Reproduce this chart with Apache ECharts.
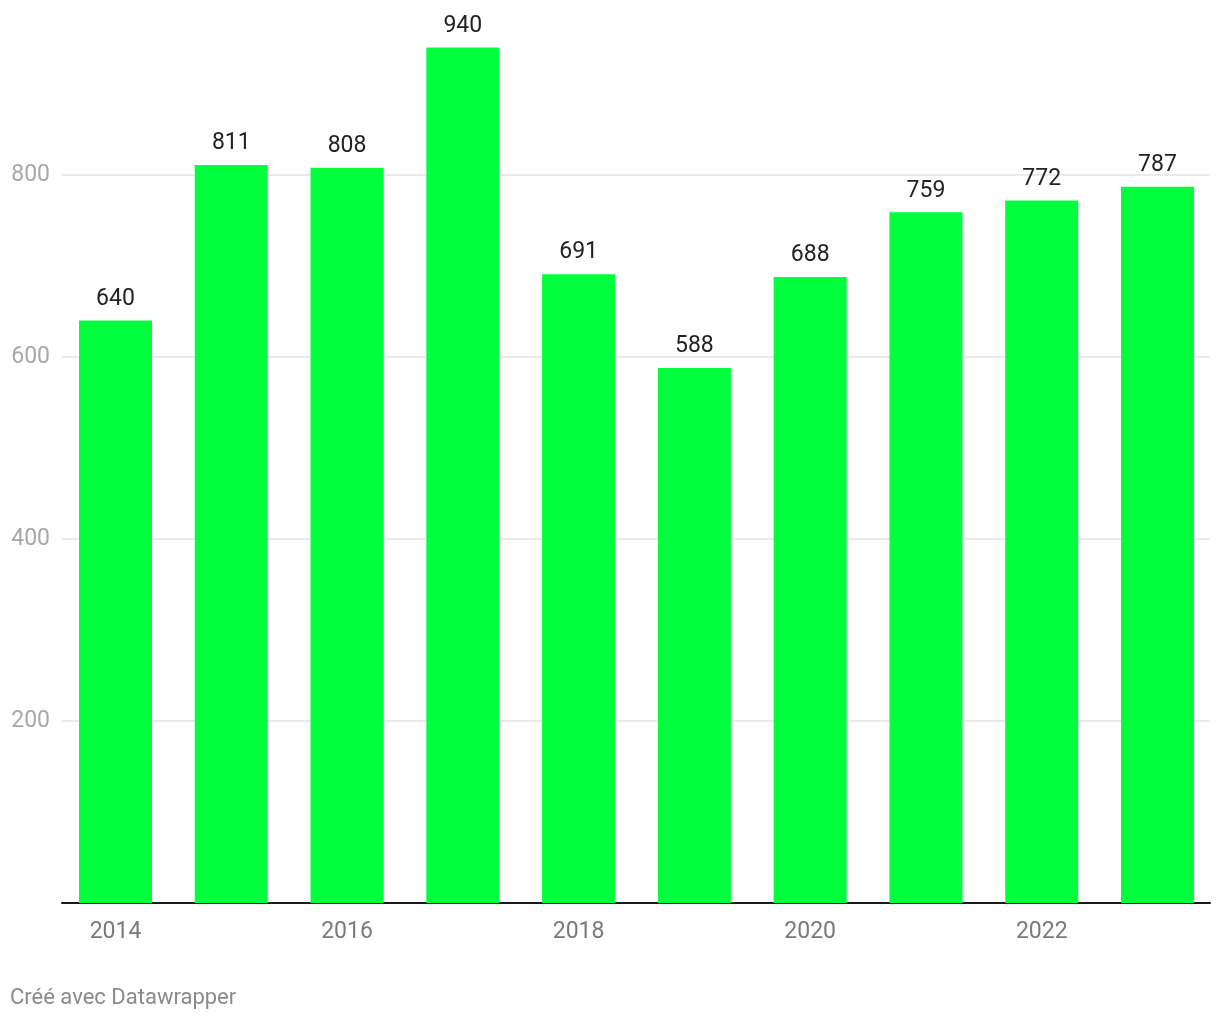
<!DOCTYPE html>
<html>
<head>
<meta charset="utf-8">
<script src="https://cdn.jsdelivr.net/npm/echarts@6/dist/echarts.min.js"></script>
<style>
  html, body { margin: 0; padding: 0; background: #fff; }
  #main { width: 1220px; height: 1020px; }
</style>
</head>
<body>
<div id="main"></div>
<script>
// données du graphique
const years = ['2014', '2015', '2016', '2017', '2018', '2019', '2020', '2021', '2022', '2023'];
const values = [640, 811, 808, 940, 691, 588, 688, 759, 772, 787];
const yTicks = [200, 400, 600, 800];

const FONT = 'Roboto, "Noto Sans", sans-serif';
const Y_MAX = 992.3; // haut de la zone de tracé

let myChart = echarts.init(document.getElementById('main'));

let option = {
  backgroundColor: '#ffffff',
  animation: false,
  textStyle: { fontFamily: FONT },
  graphic: [{
    type: 'text',
    left: 10,
    top: 987,
    style: { text: 'Créé avec Datawrapper', fill: '#8a8a8a', font: '22px ' + FONT }
  }],
  grid: [
    // barres
    { left: 57.6, right: 4.6, top: 0, bottom: 117 },
    // axes et grille
    { left: 62, right: 10, top: 0, bottom: 117 }
  ],
  xAxis: [
    {
      type: 'category',
      gridIndex: 0,
      data: years,
      axisLine: { show: false },
      axisTick: { show: false },
      axisLabel: {
        interval: 1,
        color: '#7a7a7a',
        fontSize: 23,
        margin: 18,
        fontFamily: FONT
      }
    },
    {
      type: 'value',
      gridIndex: 1,
      min: 0,
      max: 1,
      axisLine: { show: true, lineStyle: { color: '#1a1a1a', width: 2 } },
      axisTick: { show: false },
      axisLabel: { show: false },
      splitLine: { show: false }
    }
  ],
  yAxis: [
    {
      type: 'value',
      gridIndex: 0,
      min: 0,
      max: Y_MAX,
      show: false
    },
    {
      type: 'value',
      gridIndex: 1,
      min: 0,
      max: Y_MAX,
      interval: 200,
      axisLine: { show: false },
      axisTick: { show: false },
      axisLabel: {
        color: '#a8a8a8',
        fontSize: 23,
        margin: 12,
        fontFamily: FONT,
        showMaxLabel: false,
        formatter: function (v) { return yTicks.indexOf(v) >= 0 ? String(v) : ''; }
      },
      splitLine: {
        show: true,
        showMaxLine: false,
        showMinLine: false,
        lineStyle: { color: '#e3e3e3', width: 1.5 }
      }
    }
  ],
  series: [
    {
      type: 'bar',
      xAxisIndex: 0,
      yAxisIndex: 0,
      data: values,
      barWidth: 73,
      z: 3,
      itemStyle: { color: '#00ff3c' },
      label: {
        show: true,
        position: 'top',
        distance: 10,
        color: '#222222',
        fontSize: 23,
        fontFamily: FONT
      }
    }
  ]
};

myChart.setOption(option);
</script>
</body>
</html>
